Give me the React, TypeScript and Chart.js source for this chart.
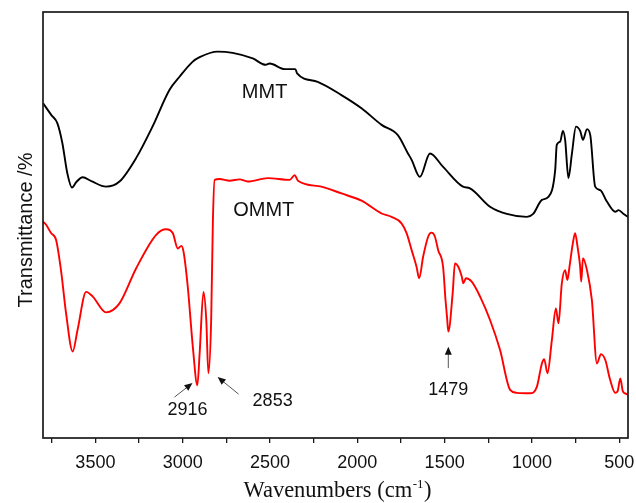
import React, { useEffect, useRef } from "react";
import { Chart, registerables } from "chart.js";

Chart.register(...registerables);

// FTIR spectra: wavenumber (cm-1) and transmittance (arbitrary offset units)
const mmtWavenumbers = [
  3800, 3752, 3718, 3689, 3661, 3634, 3609, 3573, 3523, 3439, 3362, 3267, 3173,
  3076, 3018, 2944, 2903, 2800, 2714, 2599, 2525, 2502, 2416, 2355, 2345, 2227,
  2091, 1976, 1861, 1768, 1710, 1689, 1642, 1584, 1510, 1395, 1355, 1240, 1144,
  1030, 993, 943, 906, 867, 858, 838, 823, 810, 791, 771, 748, 724, 708, 685,
  666, 638, 609, 571, 523, 504, 475, 450,
];
const mmtValues = [
  78.6, 75.8, 73.9, 69.2, 62.2, 58.8, 60.1, 61.2, 60.3, 59.0, 60.2, 65.7, 73.1,
  81.7, 84.8, 88.3, 89.4, 90.7, 90.4, 89.1, 87.6, 87.9, 86.6, 86.6, 85.6, 83.6,
  80.5, 77.4, 73.5, 71.1, 66.8, 65.3, 61.3, 66.8, 63.7, 59.0, 58.6, 54.3, 52.6,
  51.9, 52.6, 55.9, 56.6, 62.9, 68.8, 69.6, 72.1, 70.0, 61.0, 66.8, 73.1, 72.1,
  70.0, 72.5, 71.1, 59.0, 58.2, 55.5, 53.1, 53.5, 52.6, 51.9,
];

const ommtWavenumbers = [
  3800, 3781, 3754, 3725, 3697, 3668, 3630, 3602, 3553, 3515, 3439, 3362, 3267,
  3152, 3095, 3057, 3028, 3008, 2995, 2971, 2942, 2916, 2903, 2881, 2865, 2853,
  2837, 2827, 2817, 2789, 2731, 2674, 2628, 2513, 2387, 2359, 2340, 2206, 2091,
  1976, 1861, 1804, 1747, 1718, 1689, 1661, 1646, 1623, 1594, 1575, 1556, 1537,
  1509, 1495, 1486, 1479, 1454, 1441, 1422, 1402, 1393, 1378, 1345, 1297, 1240,
  1183, 1125, 1087, 1011, 972, 943, 930, 911, 886, 863, 848, 829, 810, 797, 785,
  766, 753, 739, 724, 718, 708, 685, 657, 628, 605, 580, 552, 523, 510, 494,
  479, 456, 450,
];
const ommtValues = [
  50.8, 50.0, 48.1, 46.5, 39.4, 29.3, 20.3, 25.4, 34.3, 33.2, 29.5, 31.6, 39.8,
  47.7, 49.0, 48.1, 44.5, 45.1, 43.7, 35.5, 21.4, 12.4, 19.9, 34.3, 27.7, 15.2,
  27.7, 51.2, 60.6, 60.8, 60.4, 60.7, 60.2, 61.0, 60.6, 61.7, 60.4, 59.0, 57.4,
  55.7, 52.7, 51.9, 50.4, 48.1, 44.1, 40.2, 37.5, 42.6, 47.3, 48.2, 47.3, 44.1,
  40.2, 32.4, 28.2, 25.0, 34.0, 41.0, 40.2, 37.9, 36.3, 37.5, 36.7, 33.2, 27.7,
  20.7, 11.3, 10.6, 10.5, 12.0, 17.5, 18.5, 15.2, 23.0, 30.4, 26.9, 36.3, 39.4,
  37.1, 40.2, 45.7, 48.1, 44.9, 40.2, 36.7, 42.2, 39.4, 32.4, 17.5, 19.7, 18.3,
  13.6, 10.6, 10.9, 14.0, 10.9, 10.3, 10.1,
];

const xTickValues = [
  3750, 3500, 3250, 3000, 2750, 2500, 2250, 2000, 1750, 1500, 1250, 1000, 750, 500,
];

// Sample names placed in data coordinates
const seriesLabels = [
  { text: "MMT", x: 2531, y: 81.2 },
  { text: "OMMT", x: 2536, y: 53.3 },
];

// Peak annotations: label position, arrow tail and arrow tip
const peakLabels = [
  { text: "2916", lx: 2972, ly: 6.6, tx: 3047, ty: 9.6, hx: 2944, hy: 12.9 },
  { text: "2853", lx: 2485, ly: 8.7, tx: 2680, ty: 10.3, hx: 2800, hy: 14.3 },
  { text: "1479", lx: 1479, ly: 11.3, tx: 1479, ty: 16.4, hx: 1479, hy: 21.4 },
];

const SANS = "'Liberation Sans', Arial, sans-serif";
const SERIF = "'Liberation Serif', 'Times New Roman', serif";

const toPoints = (xs: number[], ys: number[]) => xs.map((x, i) => ({ x, y: ys[i] }));

const decorations = {
  id: "decorations",
  afterDatasetsDraw(chart: any) {
    const { ctx, chartArea, scales } = chart;
    const xs = scales.x;
    const ys = scales.y;
    ctx.save();

    // frame around the plot area
    ctx.strokeStyle = "#1a1a1a";
    ctx.lineWidth = 1.7;
    ctx.strokeRect(chartArea.left, chartArea.top, chartArea.right - chartArea.left, chartArea.bottom - chartArea.top);

    // series names
    ctx.fillStyle = "#111";
    ctx.font = `20px ${SANS}`;
    ctx.textAlign = "center";
    ctx.textBaseline = "middle";
    for (const s of seriesLabels) {
      ctx.fillText(s.text, xs.getPixelForValue(s.x), ys.getPixelForValue(s.y));
    }

    // peak labels with arrows
    ctx.font = `18px ${SANS}`;
    for (const p of peakLabels) {
      ctx.fillStyle = "#111";
      ctx.fillText(p.text, xs.getPixelForValue(p.lx), ys.getPixelForValue(p.ly));
      const x0 = xs.getPixelForValue(p.tx);
      const y0 = ys.getPixelForValue(p.ty);
      const x1 = xs.getPixelForValue(p.hx);
      const y1 = ys.getPixelForValue(p.hy);
      const ang = Math.atan2(y1 - y0, x1 - x0);
      const headLen = 8;
      const headW = 3.5;
      ctx.strokeStyle = "#555";
      ctx.lineWidth = 1;
      ctx.beginPath();
      ctx.moveTo(x0, y0);
      ctx.lineTo(x1 - Math.cos(ang) * headLen * 0.8, y1 - Math.sin(ang) * headLen * 0.8);
      ctx.stroke();
      ctx.fillStyle = "#111";
      ctx.beginPath();
      ctx.moveTo(x1, y1);
      ctx.lineTo(
        x1 - Math.cos(ang) * headLen - Math.sin(ang) * headW,
        y1 - Math.sin(ang) * headLen + Math.cos(ang) * headW
      );
      ctx.lineTo(
        x1 - Math.cos(ang) * headLen + Math.sin(ang) * headW,
        y1 - Math.sin(ang) * headLen - Math.cos(ang) * headW
      );
      ctx.closePath();
      ctx.fill();
    }

    // y-axis title
    ctx.fillStyle = "#111";
    ctx.font = `20px ${SANS}`;
    ctx.textAlign = "center";
    ctx.textBaseline = "alphabetic";
    ctx.save();
    ctx.translate(32, (chartArea.top + chartArea.bottom) / 2 + 5);
    ctx.rotate(-Math.PI / 2);
    ctx.fillText("Transmittance /%", 0, 0);
    ctx.restore();

    // x-axis title with superscript
    const main = "Wavenumbers (cm";
    const sup = "-1";
    const close = ")";
    ctx.font = `22.5px ${SERIF}`;
    const wMain = ctx.measureText(main).width;
    const wClose = ctx.measureText(close).width;
    ctx.font = `13px ${SERIF}`;
    const wSup = ctx.measureText(sup).width;
    const total = wMain + wSup + wClose + 1;
    const cx = (chartArea.left + chartArea.right) / 2 + 2;
    const base = 497;
    let x = cx - total / 2;
    ctx.textAlign = "left";
    ctx.font = `22.5px ${SERIF}`;
    ctx.fillText(main, x, base);
    x += wMain;
    ctx.font = `13px ${SERIF}`;
    ctx.fillText(sup, x + 0.5, base - 9);
    x += wSup + 1;
    ctx.font = `22.5px ${SERIF}`;
    ctx.fillText(close, x, base);

    ctx.restore();
  },
};

export default function App() {
  const canvasRef = useRef<HTMLCanvasElement | null>(null);

  useEffect(() => {
    const canvas = canvasRef.current;
    if (!canvas) return;
    const chart = new Chart(canvas, {
      type: "line",
      data: {
        datasets: [
          {
            label: "MMT",
            data: toPoints(mmtWavenumbers, mmtValues),
            borderColor: "#000000",
            borderWidth: 1.9,
            pointRadius: 0,
            cubicInterpolationMode: "monotone",
            fill: false,
          },
          {
            label: "OMMT",
            data: toPoints(ommtWavenumbers, ommtValues),
            borderColor: "#ff0000",
            borderWidth: 1.9,
            pointRadius: 0,
            cubicInterpolationMode: "monotone",
            fill: false,
          },
        ],
      },
      options: {
        responsive: false,
        animation: false,
        parsing: false as any,
        layout: { padding: { left: 43, top: 12, right: 8, bottom: 0 } },
        plugins: {
          legend: { display: false },
          tooltip: { enabled: false },
        },
        scales: {
          x: {
            type: "linear",
            reverse: true,
            min: 450,
            max: 3800,
            afterBuildTicks: (scale: any) => {
              scale.ticks = xTickValues.map((v) => ({ value: v }));
            },
            afterFit: (scale: any) => {
              scale.height = 65;
              scale.paddingLeft = 0;
              scale.paddingRight = 0;
            },
            grid: {
              display: true,
              drawOnChartArea: false,
              drawTicks: true,
              tickLength: 5,
              color: "#1a1a1a",
              lineWidth: 1.3,
            },
            border: { display: false },
            ticks: {
              autoSkip: false,
              maxRotation: 0,
              padding: 9,
              color: "#111",
              font: { family: SANS, size: 18 },
              callback: (v: any) => (Number(v) % 500 === 0 ? String(v) : ""),
            },
          },
          y: {
            display: false,
            min: 0,
            max: 100,
          },
        },
      },
      plugins: [decorations],
    });
    return () => chart.destroy();
  }, []);

  return (
    <div style={{ position: "fixed", left: 0, top: 0, width: 636, height: 503, background: "#fff" }}>
      <canvas ref={canvasRef} width={636} height={503} />
    </div>
  );
}
